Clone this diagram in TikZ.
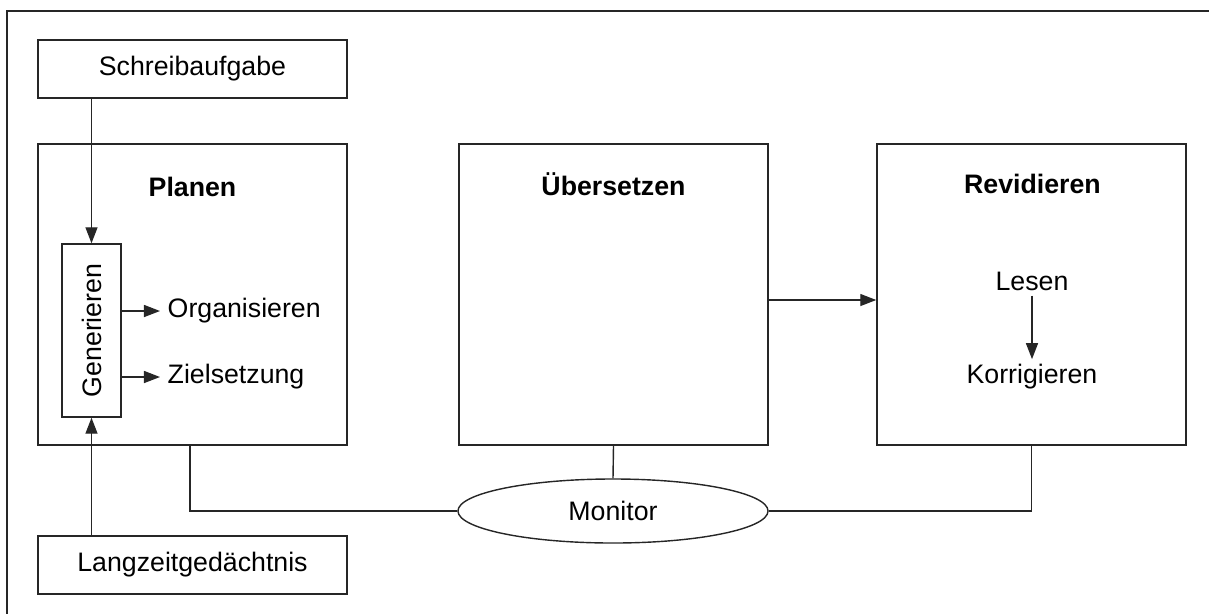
\documentclass[tikz,border=0pt]{standalone}
\usepackage{fontspec}
\setmainfont{Liberation Sans}
\usetikzlibrary{arrows.meta,shapes.geometric}

\begin{document}
\begin{tikzpicture}[x={(0.025cm,0cm)},y={(0cm,-0.025cm)},
  font=\fontsize{19}{22}\selectfont,
  line width=1pt,draw=black!85,
  box/.style={draw,minimum width=7.725cm,inner sep=0pt},
  title/.style={font=\fontsize{19}{22}\selectfont\bfseries},
  tip/.style={-{Triangle[length=0.4cm,width=0.3cm]}}]
\useasboundingbox (0,0) rectangle (1209,614);
\draw (1209,11) -- (7,11) -- (7,614);
\node[box,minimum height=1.45cm] (task) at (192.5,69) {Schreibaufgabe};
\node[box,minimum height=1.45cm] (ltm) at (192.5,565) {Langzeitgedächtnis};
\node[box,minimum height=7.525cm] (plan) at (192.5,294.5) {};
\node[box,minimum height=7.525cm] (trans) at (613.5,294.5) {};
\node[box,minimum height=7.525cm] (rev) at (1031.5,294.5) {};
\node[title] (planT) at (192.5,187) {Planen};
\node[title] (transT) at (613.5,184) {Übersetzen};
\node[title] (revT) at (1032.5,184) {Revidieren};
\node[draw,minimum width=4.325cm,minimum height=1.475cm,rotate=90,inner sep=0pt] (gen) at (91.5,330.5) {Generieren};
\node[anchor=west,inner sep=5pt] (org) at (160,311) {Organisieren};
\node[anchor=west,inner sep=5pt] (goal) at (160,377) {Zielsetzung};
\node (read) at (1032,281) {Lesen};
\node (corr) at (1032,377) {Korrigieren};
\node[draw,ellipse,minimum width=7.75cm,minimum height=1.6cm,inner sep=0pt] (mon) at (613,511) {Monitor};
\draw[tip] (gen.east |- task.south) -- (gen.east);
\draw[tip] (gen.west |- ltm.north) -- (gen.west);
\draw[tip] (gen.south |- org.west) -- (org.west);
\draw[tip] (gen.south |- goal.west) -- (goal.west);
\draw[tip] (trans.east |- 0,300) -- (rev.west |- 0,300);
\draw[tip] (read.south) -- (corr.north);
\draw ([xshift=-2.5*0.025cm]plan.south) |- (mon.west);
\draw (trans.south) -- (mon.north);
\draw (rev.south) |- (mon.east);
\end{tikzpicture}
\end{document}
